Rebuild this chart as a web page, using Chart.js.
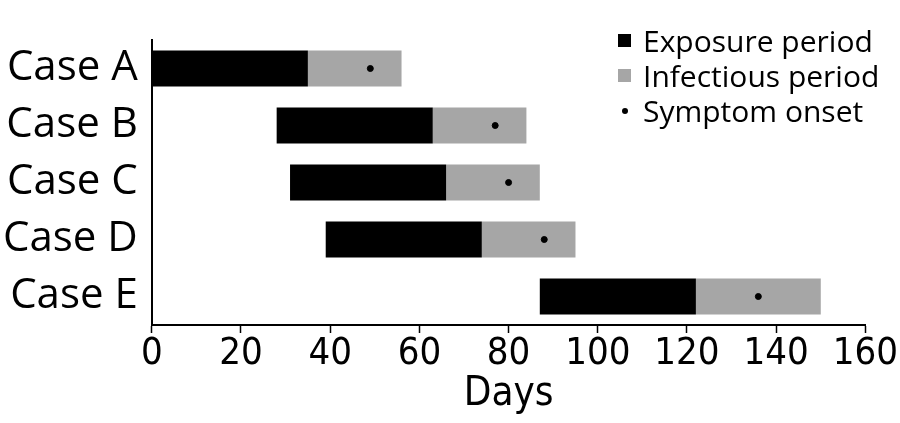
<!DOCTYPE html>
<html>
<head>
<meta charset="utf-8">
<script src="https://cdn.jsdelivr.net/npm/chart.js@4.4.1/dist/chart.umd.min.js"></script>
<style>
  html, body { margin: 0; padding: 0; background: #fff; }
  #wrap { position: relative; width: 900px; height: 423px; }
  #legend { position: absolute; left: 618px; top: 23px; font-family: "Open Sans", sans-serif; font-size: 30px; color: #000; line-height: 35px; }
  #legend div { display: flex; align-items: center; white-space: nowrap; }
  #legend span.mk { display: inline-block; width: 13px; height: 13px; margin-right: 12px; }
  #legend span.dot { display: inline-block; width: 6px; height: 6px; border-radius: 50%; background: #000; margin: 0 15px 0 4px; }
</style>
</head>
<body>
<div id="wrap">
  <canvas id="timeline"></canvas>
  <div id="legend">
    <div><span class="mk" style="background:#000"></span>Exposure period</div>
    <div><span class="mk" style="background:#a6a6a6"></span>Infectious period</div>
    <div><span class="dot"></span>Symptom onset</div>
  </div>
</div>
<script>
const cases = ['Case A', 'Case B', 'Case C', 'Case D', 'Case E'];
const exposureStart = [0, 28, 31, 39, 87];
const exposureEnd = [35, 63, 66, 74, 122];
const infectiousEnd = [56, 84, 87, 95, 150];
const symptomOnset = [49, 77, 80, 88, 136];
const dayTicks = [0, 20, 40, 60, 80, 100, 120, 140, 160];

const exposureBars = cases.map((c, i) => [exposureStart[i], exposureEnd[i]]);
const infectiousBars = cases.map((c, i) => [exposureEnd[i], infectiousEnd[i]]);

const ctx = document.getElementById('timeline').getContext('2d');
new Chart(ctx, {
    type: 'bar',
    data: {
        labels: cases,
        datasets: [
            {
                type: 'line',
                label: 'Symptom onset',
                indexAxis: 'y',
                data: symptomOnset,
                showLine: false,
                pointRadius: 3,
                pointBackgroundColor: '#000',
                pointBorderColor: '#000',
                order: 0
            },
            {
                label: 'Exposure period',
                data: exposureBars,
                backgroundColor: '#000',
                grouped: false,
                barPercentage: 0.63,
                categoryPercentage: 1,
                order: 1
            },
            {
                label: 'Infectious period',
                data: infectiousBars,
                backgroundColor: '#a6a6a6',
                grouped: false,
                barPercentage: 0.63,
                categoryPercentage: 1,
                order: 2
            }
        ]
    },
    options: {
        indexAxis: 'y',
        responsive: true,
        maintainAspectRatio: false,
        animation: false,
        layout: { padding: { top: 40, right: 10, left: -11, bottom: 8 } },
        plugins: {
            legend: { display: false },
            tooltip: { enabled: false }
        },
        scales: {
            x: {
                min: 0,
                max: 160,
                afterBuildTicks: axis => { axis.ticks = dayTicks.map(v => ({ value: v })); },
                grid: { drawOnChartArea: false, tickLength: 8, color: '#000', tickWidth: 1.5 },
                border: { color: '#000', width: 2 },
                ticks: {
                    color: '#000',
                    padding: 2,
                    maxRotation: 0,
                    font: { family: '"DejaVu Sans Condensed", sans-serif', size: 38, lineHeight: 1 }
                },
                title: {
                    display: true,
                    text: 'Days',
                    color: '#000',
                    padding: { top: 0, bottom: 0 },
                    font: { family: '"DejaVu Sans Condensed", sans-serif', size: 40, lineHeight: 1 }
                }
            },
            y: {
                grid: { display: false, drawTicks: false },
                border: { color: '#000', width: 2 },
                ticks: {
                    color: '#000',
                    padding: 14,
                    font: { family: '"Open Sans", sans-serif', size: 42 }
                }
            }
        }
    }
});
</script>
</body>
</html>
